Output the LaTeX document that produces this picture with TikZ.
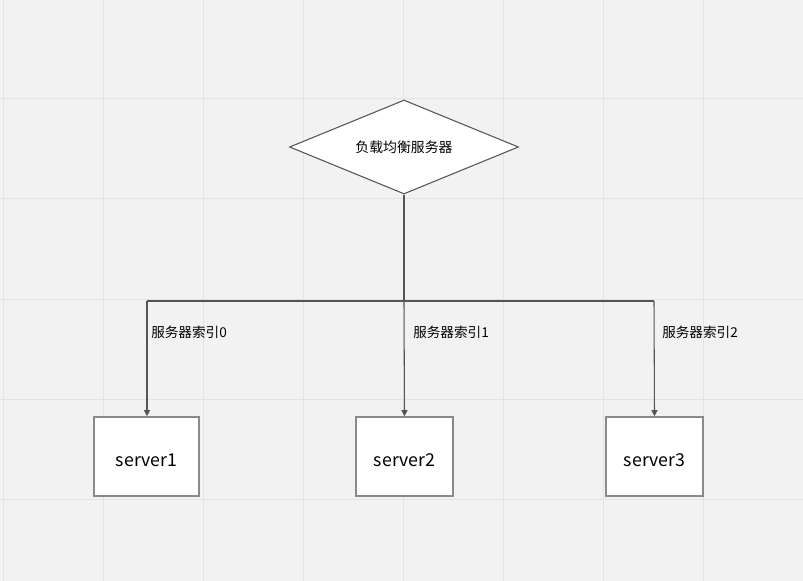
\documentclass[tikz,border=0pt]{standalone}
\usepackage{fontspec}
\setmainfont{Noto Sans CJK SC}
\usetikzlibrary{shapes.geometric,arrows.meta}
\definecolor{bg}{HTML}{F2F2F2}
\definecolor{gridc}{HTML}{E3E3E3}
\definecolor{boxline}{HTML}{8A8A8A}
\definecolor{conn}{HTML}{555555}
\newcommand{\srvtext}[1]{\raisebox{-7.5pt}[0pt][0pt]{#1}}
\tikzset{
  srv/.style={draw=boxline, line width=1.2pt, fill=white, inner sep=0pt, font=\fontsize{13.3}{15}\selectfont},
  lbl/.style={anchor=west, inner sep=0pt, font=\fontsize{10.2}{12}\selectfont},
  wire/.style={draw=conn, line width=0.8pt},
  arr/.style={wire, -{Triangle[length=4.5pt,width=4.5pt]}}
}
\begin{document}
\begin{tikzpicture}[x=0.75pt,y=-0.75pt]
\fill[bg] (0,0) rectangle (803,581);
\useasboundingbox (0,0) rectangle (803,581);
\foreach \x in {3,103,...,803} \draw[gridc, line width=0.75pt] (\x,0) -- (\x,581);
\foreach \y in {99,199,...,581} \draw[gridc, line width=0.75pt] (0,\y) -- (803,\y);
\node[diamond, draw=conn, line width=0.8pt, fill=white, minimum width=229*0.75pt, minimum height=94*0.75pt, inner sep=0pt, aspect=2.44, font=\fontsize{10.4}{12}\selectfont] (lb) at (404,147) {负载均衡服务器};
\node[srv, minimum width=105*0.75pt, minimum height=79*0.75pt] (s1) at (146.5,456.5) {\srvtext{server1}};
\node[srv, minimum width=97*0.75pt, minimum height=79*0.75pt] (s2) at (404.5,456.5) {\srvtext{server2}};
\node[srv, minimum width=97*0.75pt, minimum height=79*0.75pt] (s3) at (654.5,456.5) {\srvtext{server3}};
\coordinate (j) at (404,301);
\coordinate (jl) at (147,301);
\coordinate (jr) at (654,301);
\draw[wire] (lb.south) -- (j);
\draw[wire] (jl) -- (jr);
\draw[arr] (jl) -- (jl |- s1.north);
\draw[arr] (j) -- (s2.north);
\draw[arr] (jr) -- (s3.north);
\node[lbl] (l0) at (151,332) {服务器索引0};
\node[lbl] (l1) at (413,332) {服务器索引1};
\node[lbl] (l2) at (662,332) {服务器索引2};
\end{tikzpicture}
\end{document}
